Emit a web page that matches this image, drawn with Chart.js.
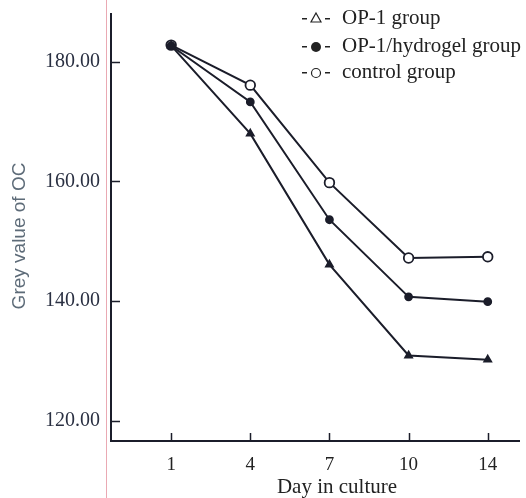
<!DOCTYPE html>
<html>
<head>
<meta charset="utf-8">
<script src="https://cdn.jsdelivr.net/npm/chart.js@4"></script>
<style>
  html, body { margin: 0; padding: 0; background: #fff; }
  #wrap { width: 526px; height: 498px; }
</style>
</head>
<body>
<div id="wrap"><canvas id="chart" width="526" height="498"></canvas></div>
<script>
// days of culture (x categories)
const days = ['1', '4', '7', '10', '14'];
// grey value of OC per group
const op1Group = [182.7, 168.0, 146.1, 130.9, 130.2];
const hydrogelGroup = [182.7, 173.3, 153.6, 140.7, 139.9];
const controlGroup = [182.8, 176.1, 159.8, 147.2, 147.4];
const yTicks = [120, 140, 160, 180];

const ink = '#1b1d2a';
const serif = '"Liberation Serif", "Times New Roman", serif';

function toPoints(arr) {
    return arr.map((v, i) => ({ x: i, y: v }));
}

// ticks pointing inward, scan line, legend and axis titles
const decor = {
    id: 'decor',
    beforeDraw(chart) {
        const ctx = chart.ctx;
        ctx.save();
        ctx.strokeStyle = '#eaa9b3';
        ctx.lineWidth = 1;
        ctx.beginPath();
        ctx.moveTo(106.5, 0);
        ctx.lineTo(106.5, 498);
        ctx.stroke();
        ctx.restore();
    },
    afterDraw(chart) {
        const ctx = chart.ctx;
        const xs = chart.scales.x, ys = chart.scales.y;
        const area = chart.chartArea;
        ctx.save();
        ctx.strokeStyle = ink;
        ctx.lineWidth = 1.5;
        ctx.beginPath();
        yTicks.forEach(t => {
            const py = Math.round(ys.getPixelForValue(t)) + 0.5;
            ctx.moveTo(area.left, py);
            ctx.lineTo(area.left + 9, py);
        });
        days.forEach((d, i) => {
            const px = Math.round(xs.getPixelForValue(i)) + 0.5;
            ctx.moveTo(px, area.bottom);
            ctx.lineTo(px, area.bottom - 8);
        });
        ctx.stroke();

        // x title
        ctx.fillStyle = '#222';
        ctx.font = '21px ' + serif;
        ctx.textAlign = 'center';
        ctx.textBaseline = 'middle';
        ctx.fillText('Day in culture', 337, 487);

        // y title
        ctx.save();
        ctx.translate(20, 236);
        ctx.rotate(-Math.PI / 2);
        ctx.fillStyle = '#5d6b78';
        ctx.font = '19px "Liberation Sans", Arial, sans-serif';
        ctx.fillText('Grey value of OC', 0, 0);
        ctx.restore();

        // legend
        const items = [
            { label: 'OP-1 group', mark: 'tri', y: 18 },
            { label: 'OP-1/hydrogel group', mark: 'dot', y: 46 },
            { label: 'control group', mark: 'ring', y: 72 }
        ];
        ctx.textAlign = 'left';
        ctx.font = '21px ' + serif;
        items.forEach(it => {
            ctx.fillStyle = '#222';
            ctx.fillRect(302, it.y, 5, 1.5);
            ctx.fillRect(325, it.y, 5, 1.5);
            const cx = 316, cy = it.y;
            ctx.strokeStyle = '#222';
            ctx.lineWidth = 1.2;
            ctx.beginPath();
            if (it.mark === 'tri') {
                ctx.moveTo(cx, cy - 5);
                ctx.lineTo(cx + 5, cy + 4);
                ctx.lineTo(cx - 5, cy + 4);
                ctx.closePath();
                ctx.stroke();
            } else if (it.mark === 'dot') {
                ctx.arc(cx, cy + 1, 5, 0, Math.PI * 2);
                ctx.fill();
            } else {
                ctx.arc(cx, cy + 1, 4.5, 0, Math.PI * 2);
                ctx.stroke();
            }
            ctx.fillText(it.label, 342, it.y);
        });
        ctx.restore();
    }
};

const common = {
    borderColor: ink,
    borderWidth: 2,
    pointBorderColor: ink,
    pointBorderWidth: 1.8,
    tension: 0
};

new Chart(document.getElementById('chart'), {
    type: 'line',
    data: {
        datasets: [
            Object.assign({ label: 'OP-1 group', data: toPoints(op1Group),
                pointStyle: 'triangle', pointRadius: 4, pointBackgroundColor: ink }, common),
            Object.assign({ label: 'OP-1/hydrogel group', data: toPoints(hydrogelGroup),
                pointStyle: 'circle', pointRadius: 3.5, pointBackgroundColor: ink }, common),
            Object.assign({ label: 'control group', data: toPoints(controlGroup),
                pointStyle: 'circle', pointRadius: 4.8, pointBackgroundColor: '#fff' }, common)
        ]
    },
    options: {
        responsive: false,
        animation: false,
        layout: { padding: { top: 14, right: 0, left: 0, bottom: 0 } },
        plugins: { legend: { display: false }, tooltip: { enabled: false } },
        scales: {
            x: {
                type: 'linear',
                min: -0.76,
                max: 4.4,
                afterBuildTicks: s => { s.ticks = days.map((d, i) => ({ value: i })); },
                afterFit: s => { s.height = 57; s.paddingLeft = 0; s.paddingRight = 0; },
                grid: { display: false, drawTicks: false },
                border: { color: ink, width: 2 },
                ticks: {
                    padding: 13,
                    color: '#222',
                    font: { family: serif, size: 19 },
                    callback: v => days[v]
                }
            },
            y: {
                min: 116.6,
                max: 188,
                afterBuildTicks: s => { s.ticks = yTicks.map(v => ({ value: v })); },
                afterFit: s => { s.width = 111; s.paddingTop = 0; s.paddingBottom = 0; },
                grid: { display: false, drawTicks: false },
                border: { color: ink, width: 2 },
                ticks: {
                    padding: 11,
                    color: '#2a3042',
                    font: { family: serif, size: 20 },
                    callback: v => v.toFixed(2)
                }
            }
        }
    },
    plugins: [decor]
});
</script>
</body>
</html>
